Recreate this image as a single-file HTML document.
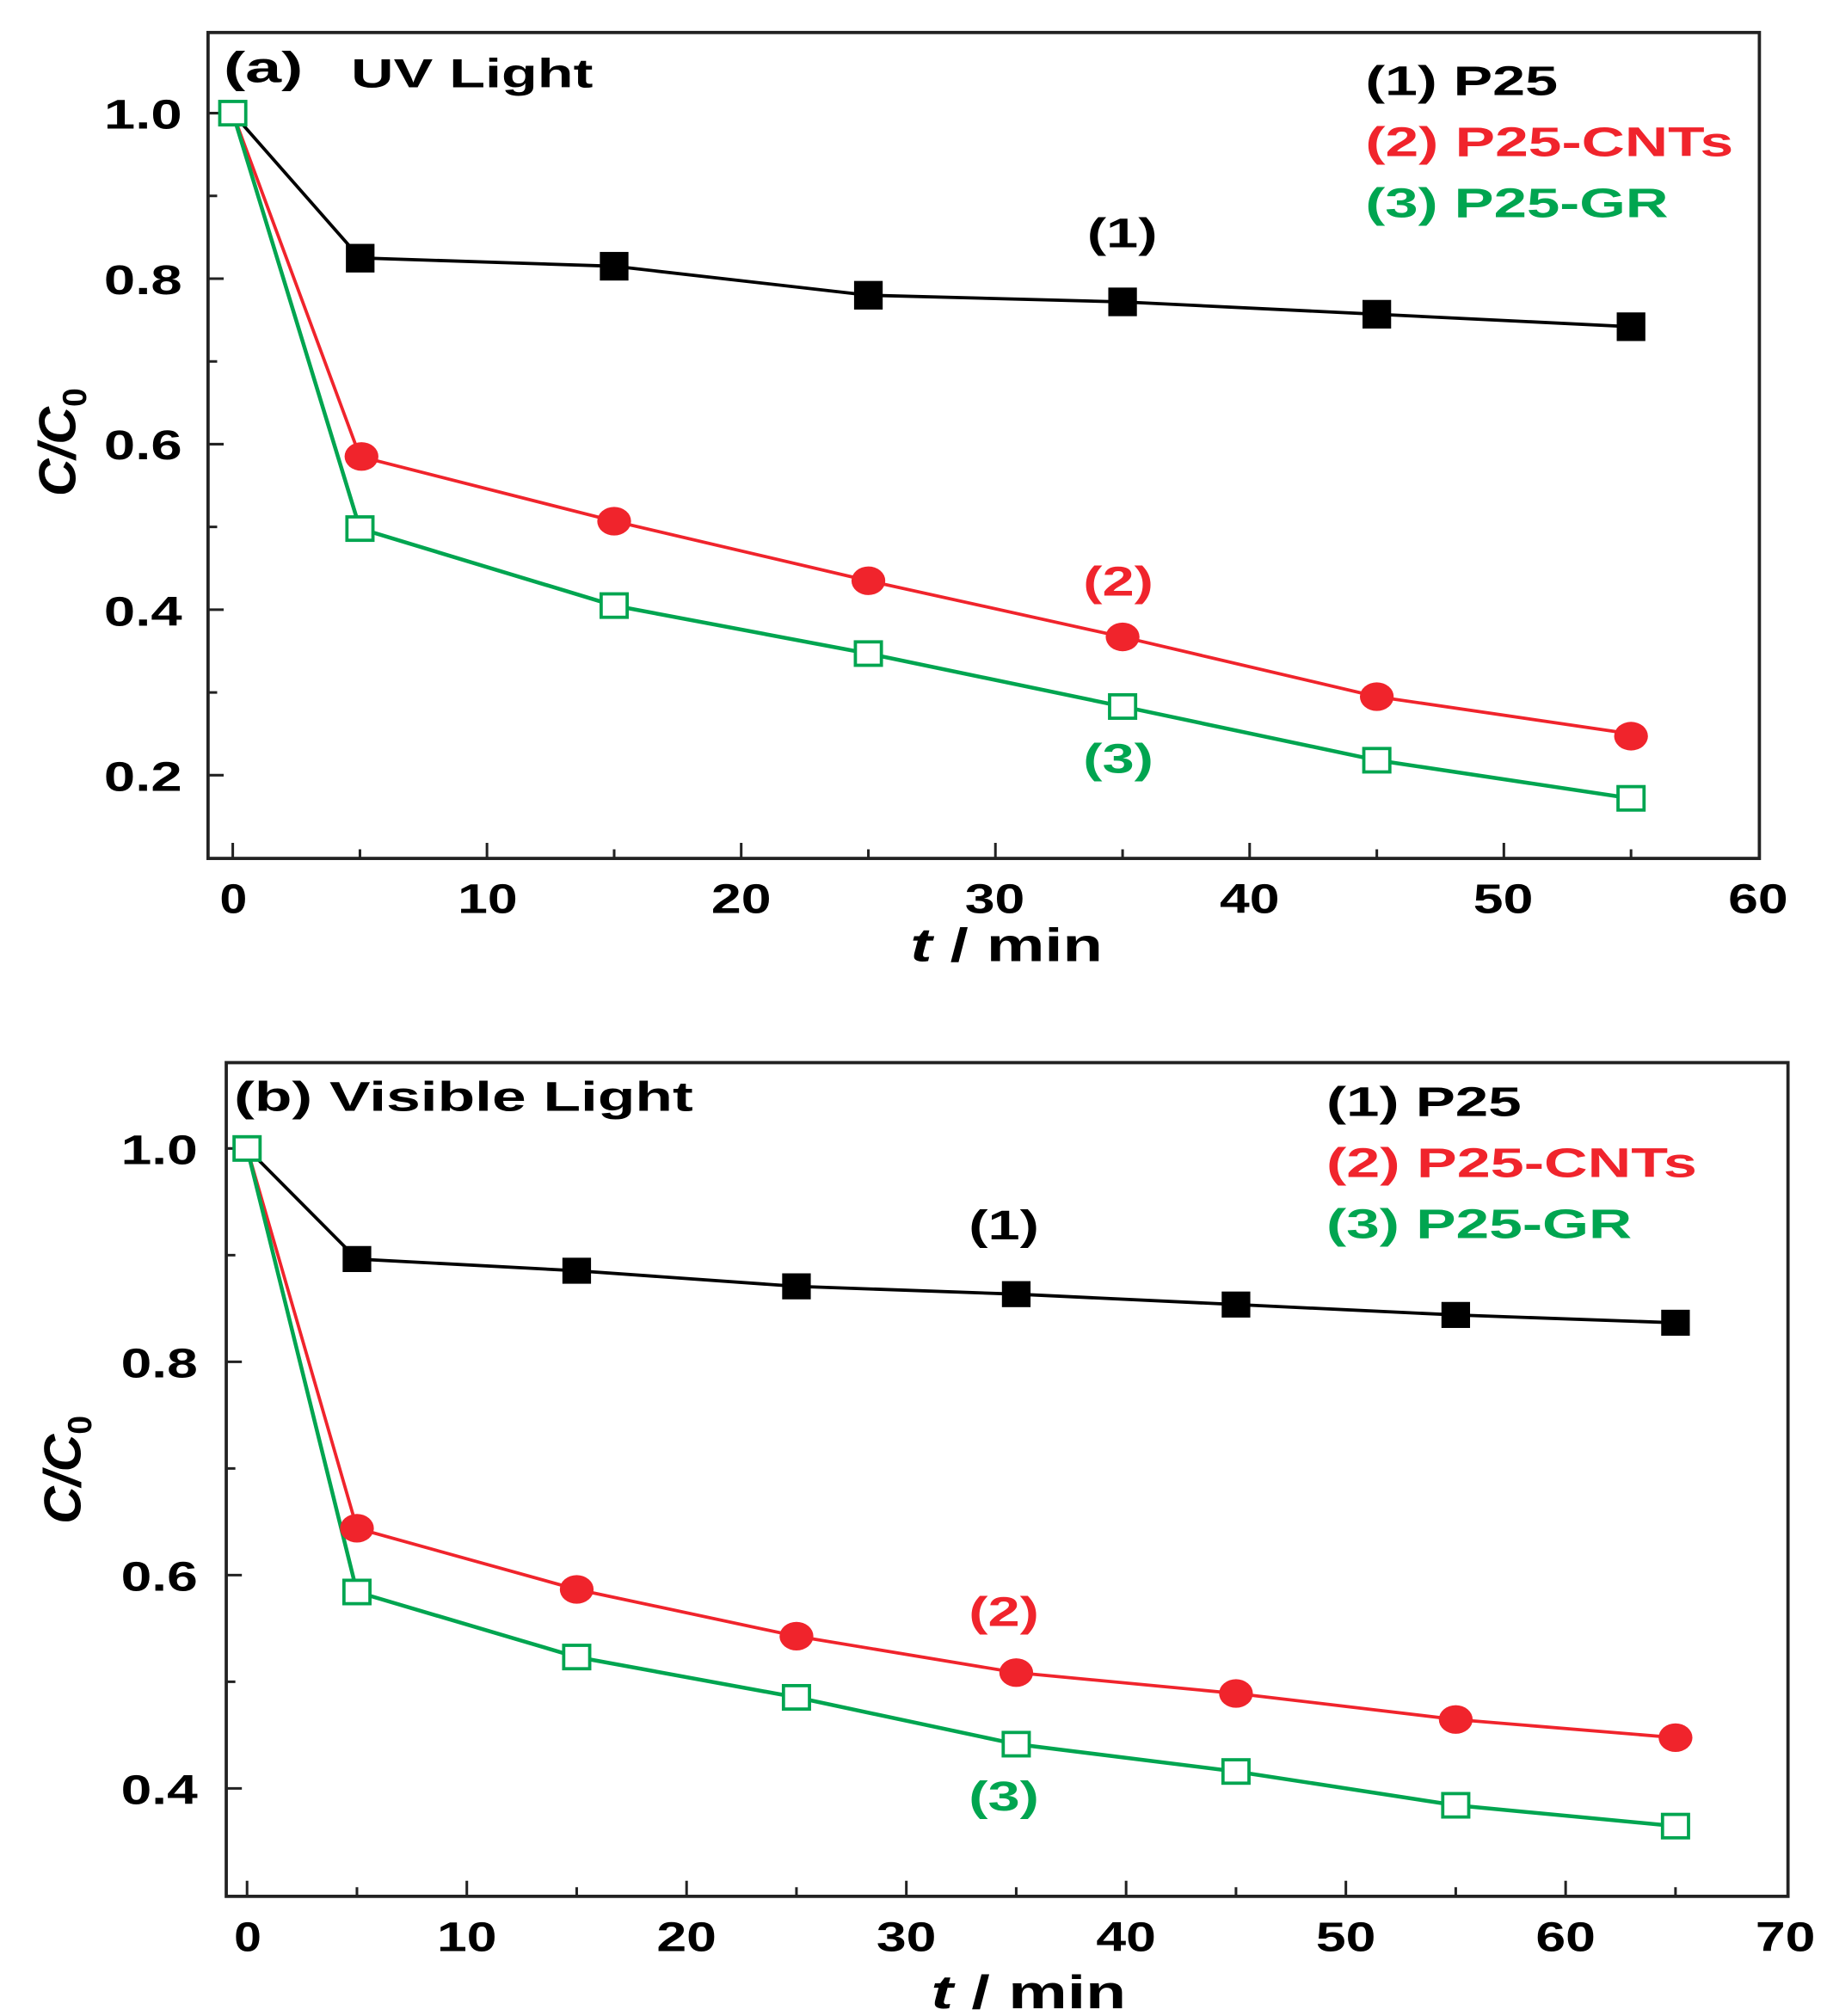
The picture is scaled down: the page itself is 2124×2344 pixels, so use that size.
<!DOCTYPE html>
<html><head><meta charset="utf-8"><style>html,body{margin:0;padding:0;background:#fff}svg{display:block}</style></head>
<body>
<svg width="2124" height="2344" viewBox="0 0 1405 1550" preserveAspectRatio="none" xmlns="http://www.w3.org/2000/svg" font-family="Liberation Sans, Arial, sans-serif" font-weight="bold">
<!-- Panel A -->
<rect x="160" y="25" width="1193" height="635" fill="none" stroke="#222" stroke-width="2.5"/>
<g stroke="#222" stroke-width="2">
<path d="M160 87h12M160 214.25h12M160 341.5h12M160 468.75h12M160 596h12M160 150.6h7M160 277.9h7M160 405.1h7M160 532.4h7"/>
<path d="M179 660v-12M374.5 660v-12M570 660v-12M765.5 660v-12M961 660v-12M1156.5 660v-12M276.8 660v-7M472.3 660v-7M667.8 660v-7M863.3 660v-7M1058.8 660v-7M1254.3 660v-7"/>
</g>
<g font-size="32" lengthAdjust="spacingAndGlyphs">
<text x="80" y="99" textLength="60" lengthAdjust="spacingAndGlyphs">1.0</text><text x="80" y="226" textLength="60" lengthAdjust="spacingAndGlyphs">0.8</text><text x="80" y="353" textLength="60" lengthAdjust="spacingAndGlyphs">0.6</text><text x="80" y="481" textLength="60" lengthAdjust="spacingAndGlyphs">0.4</text><text x="80" y="608" textLength="60" lengthAdjust="spacingAndGlyphs">0.2</text>
</g>
<g font-size="32">
<text x="169" y="702" textLength="21" lengthAdjust="spacingAndGlyphs">0</text>
<text x="352" y="702" textLength="46" lengthAdjust="spacingAndGlyphs">10</text>
<text x="547" y="702" textLength="46" lengthAdjust="spacingAndGlyphs">20</text>
<text x="742" y="702" textLength="46" lengthAdjust="spacingAndGlyphs">30</text>
<text x="938" y="702" textLength="46" lengthAdjust="spacingAndGlyphs">40</text>
<text x="1133" y="702" textLength="46" lengthAdjust="spacingAndGlyphs">50</text>
<text x="1329" y="702" textLength="46" lengthAdjust="spacingAndGlyphs">60</text>
</g>
<text x="700" y="739" font-size="36" textLength="148" lengthAdjust="spacingAndGlyphs"><tspan font-style="italic">t</tspan> / min</text>
<text transform="translate(58,340) rotate(-90)" font-size="40" text-anchor="middle" font-style="italic">C/C<tspan font-size="26" dy="8" font-style="normal">0</tspan></text>
<text x="172" y="63" font-size="33" textLength="61" lengthAdjust="spacingAndGlyphs">(a)</text>
<text x="270" y="67" font-size="31" textLength="186" lengthAdjust="spacingAndGlyphs">UV Light</text>
<g font-size="32">
<text x="1050" y="73" fill="#000" textLength="148" lengthAdjust="spacingAndGlyphs">(1) P25</text>
<text x="1050" y="120" fill="#f0242c" textLength="283" lengthAdjust="spacingAndGlyphs">(2) P25-CNTs</text>
<text x="1050" y="167" fill="#00a550" textLength="233" lengthAdjust="spacingAndGlyphs">(3) P25-GR</text>
<text x="836" y="190" fill="#000" textLength="54" lengthAdjust="spacingAndGlyphs">(1)</text>
<text x="833" y="458" fill="#f0242c" textLength="54" lengthAdjust="spacingAndGlyphs">(2)</text>
<text x="833" y="594" fill="#00a550" textLength="54" lengthAdjust="spacingAndGlyphs">(3)</text>
</g>
<polyline fill="none" stroke="#000" stroke-width="2.5" points="179,87 276.8,198.3 472.3,204.7 667.8,227 863.3,232.1 1058.8,241.6 1254.3,251.2"/>
<polyline fill="none" stroke="#f0242c" stroke-width="2.5" points="179,87 276.8,351 472.3,400.7 667.8,446.5 863.3,489.7 1058.8,535.6 1254.3,564.2"/>
<polyline fill="none" stroke="#00a550" stroke-width="3" points="179,87 276.8,406.4 472.3,465.6 667.8,502.5 863.3,543.2 1058.8,584.5 1254.3,613.8"/>
<g fill="#000">
<rect x="266" y="187.5" width="22" height="22"/><rect x="461.3" y="193.7" width="22" height="22"/><rect x="656.8" y="216" width="22" height="22"/><rect x="852.3" y="221.1" width="22" height="22"/><rect x="1047.8" y="230.6" width="22" height="22"/><rect x="1243.3" y="240.2" width="22" height="22"/>
</g>
<g fill="#f0242c">
<ellipse cx="278" cy="351" rx="13" ry="11"/><ellipse cx="472.3" cy="400.7" rx="13" ry="11"/><ellipse cx="667.8" cy="446.5" rx="13" ry="11"/><ellipse cx="863.3" cy="489.7" rx="13" ry="11"/><ellipse cx="1058.8" cy="535.6" rx="13" ry="11"/><ellipse cx="1254.3" cy="566" rx="13" ry="11"/>
</g>
<g fill="#fff" stroke="#00a550" stroke-width="2.5">
<rect x="169" y="78" width="20" height="18"/><rect x="266.8" y="397.4" width="20" height="18"/><rect x="462.3" y="456.6" width="20" height="18"/><rect x="657.8" y="493.5" width="20" height="18"/><rect x="853.3" y="534.2" width="20" height="18"/><rect x="1048.8" y="575.5" width="20" height="18"/><rect x="1244.3" y="604.8" width="20" height="18"/>
</g>

<!-- Panel B -->
<rect x="174" y="817" width="1201" height="641" fill="none" stroke="#222" stroke-width="2.5"/>
<g stroke="#222" stroke-width="2">
<path d="M174 883h12M174 1047h12M174 1211h12M174 1375h12M174 965h7M174 1129h7M174 1293h7"/>
<path d="M190 1458v-12M359 1458v-12M528 1458v-12M697 1458v-12M866 1458v-12M1035 1458v-12M1204 1458v-12M274.5 1458v-7M443.5 1458v-7M612.5 1458v-7M781.5 1458v-7M950.5 1458v-7M1119.5 1458v-7M1288.5 1458v-7"/>
</g>
<g font-size="32">
<text x="93" y="895" textLength="59" lengthAdjust="spacingAndGlyphs">1.0</text><text x="93" y="1059" textLength="59" lengthAdjust="spacingAndGlyphs">0.8</text><text x="93" y="1223" textLength="59" lengthAdjust="spacingAndGlyphs">0.6</text><text x="93" y="1387" textLength="59" lengthAdjust="spacingAndGlyphs">0.4</text>
</g>
<g font-size="32">
<text x="180" y="1500" textLength="21" lengthAdjust="spacingAndGlyphs">0</text>
<text x="336" y="1500" textLength="46" lengthAdjust="spacingAndGlyphs">10</text>
<text x="505" y="1500" textLength="46" lengthAdjust="spacingAndGlyphs">20</text>
<text x="674" y="1500" textLength="46" lengthAdjust="spacingAndGlyphs">30</text>
<text x="843" y="1500" textLength="46" lengthAdjust="spacingAndGlyphs">40</text>
<text x="1012" y="1500" textLength="46" lengthAdjust="spacingAndGlyphs">50</text>
<text x="1181" y="1500" textLength="46" lengthAdjust="spacingAndGlyphs">60</text>
<text x="1350" y="1500" textLength="46" lengthAdjust="spacingAndGlyphs">70</text>
</g>
<text x="716" y="1544" font-size="36" textLength="150" lengthAdjust="spacingAndGlyphs"><tspan font-style="italic">t</tspan> / min</text>
<text transform="translate(62,1130) rotate(-90)" font-size="40" text-anchor="middle" font-style="italic">C/C<tspan font-size="26" dy="8" font-style="normal">0</tspan></text>
<text x="180" y="854" font-size="32" textLength="353" lengthAdjust="spacingAndGlyphs">(b) Visible Light</text>
<g font-size="32">
<text x="1020" y="858" fill="#000" textLength="150" lengthAdjust="spacingAndGlyphs">(1) P25</text>
<text x="1020" y="905" fill="#f0242c" textLength="285" lengthAdjust="spacingAndGlyphs">(2) P25-CNTs</text>
<text x="1020" y="952" fill="#00a550" textLength="235" lengthAdjust="spacingAndGlyphs">(3) P25-GR</text>
<text x="745" y="953" fill="#000" textLength="54" lengthAdjust="spacingAndGlyphs">(1)</text>
<text x="745" y="1250" fill="#f0242c" textLength="54" lengthAdjust="spacingAndGlyphs">(2)</text>
<text x="745" y="1392" fill="#00a550" textLength="54" lengthAdjust="spacingAndGlyphs">(3)</text>
</g>
<polyline fill="none" stroke="#000" stroke-width="2.5" points="190,883 274.5,968 443.5,977 612.5,989 781.5,995 950.5,1003 1119.5,1011 1288.5,1017"/>
<polyline fill="none" stroke="#f0242c" stroke-width="2.5" points="190,883 274.5,1175 443.5,1222 612.5,1258 781.5,1286 950.5,1302 1119.5,1322 1288.5,1336"/>
<polyline fill="none" stroke="#00a550" stroke-width="3" points="190,883 274.5,1224 443.5,1274 612.5,1305 781.5,1341 950.5,1362 1119.5,1388 1288.5,1404"/>
<g fill="#000">
<rect x="263.5" y="958" width="22" height="20"/><rect x="432.5" y="967" width="22" height="20"/><rect x="601.5" y="979" width="22" height="20"/><rect x="770.5" y="985" width="22" height="20"/><rect x="939.5" y="993" width="22" height="20"/><rect x="1108.5" y="1001" width="22" height="20"/><rect x="1277.5" y="1007" width="22" height="20"/>
</g>
<g fill="#f0242c">
<ellipse cx="274.5" cy="1175" rx="13" ry="11"/><ellipse cx="443.5" cy="1222" rx="13" ry="11"/><ellipse cx="612.5" cy="1258" rx="13" ry="11"/><ellipse cx="781.5" cy="1286" rx="13" ry="11"/><ellipse cx="950.5" cy="1302" rx="13" ry="11"/><ellipse cx="1119.5" cy="1322" rx="13" ry="11"/><ellipse cx="1288.5" cy="1336" rx="13" ry="11"/>
</g>
<g fill="#fff" stroke="#00a550" stroke-width="2.5">
<rect x="180" y="874" width="20" height="18"/><rect x="264.5" y="1215" width="20" height="18"/><rect x="433.5" y="1265" width="20" height="18"/><rect x="602.5" y="1296" width="20" height="18"/><rect x="771.5" y="1332" width="20" height="18"/><rect x="940.5" y="1353" width="20" height="18"/><rect x="1109.5" y="1379" width="20" height="18"/><rect x="1278.5" y="1395" width="20" height="18"/>
</g>
</svg>
</body></html>
